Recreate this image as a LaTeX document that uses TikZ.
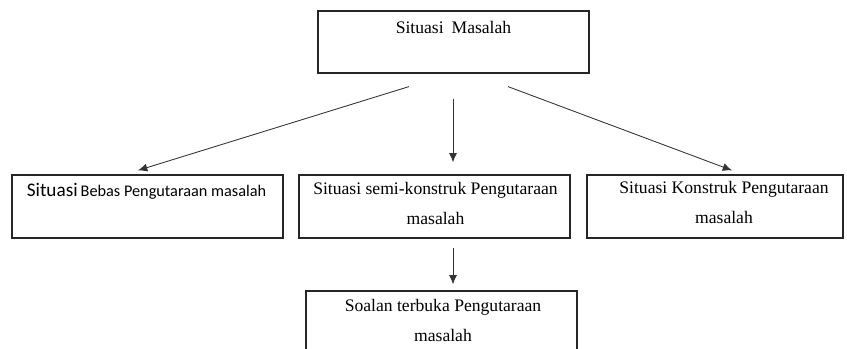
\documentclass[tikz,border=0pt]{standalone}
\usepackage{fontspec}
\setmainfont{Liberation Serif}
\newfontfamily\calibri{Carlito}
\usepackage{tikz}
\usetikzlibrary{calc,arrows.meta}

\begin{document}
\begin{tikzpicture}[x = 0.75pt, y = -0.75pt,
                    kotak/.style = {draw = black!85, line width = 0.9pt, inner sep = 0pt,
                                    minimum width = 271*0.75pt, minimum height = 63*0.75pt},
                    teks/.style = {anchor = base, inner sep = 0pt, align = center,
                                   font = \fontsize{13.2}{22.5}\selectfont},
                    panah/.style = {draw = black!80, line width = 0.65pt,
                                    -{Latex[length = 7pt, width = 6pt]}}]
                \useasboundingbox (0,0) rectangle (847,349);
                \clip (0,0) rectangle (847,349);
                % kotak-kotak
                \node[kotak, minimum height = 62*0.75pt] (masalah) at (453.5,42) {};
                \node[kotak] (bebas) at (147.5,206.5) {};
                \node[kotak] (semi) at (434.5,206.5) {};
                \node[kotak, minimum width = 256*0.75pt] (konstruk) at (715,206.5) {};
                \node[kotak] (soalan) at (441.5,322.5) {};
                % teks (base = garis dasar baris terakhir)
                \node[teks] (masalahT) at ($(masalah.north)+(0,23.5)$) {Situasi\hspace{0.45em}Masalah};
                \node[teks, font = \calibri] (bebasT) at ($(bebas.north)+(-1,22)$)
                    {{\fontsize{14.4}{17}\selectfont Situasi} {\fontsize{12.2}{15}\selectfont Bebas Pengutaraan masalah}};
                \node[teks] (semiT) at ($(semi.north)+(1,50)$) {Situasi semi-konstruk Pengutaraan\\masalah};
                \node[teks] (konstrukT) at ($(konstruk.north)+(9,49)$) {Situasi Konstruk Pengutaraan\\masalah};
                \node[teks] (soalanT) at ($(soalan.north)+(1.5,51)$) {Soalan terbuka Pengutaraan\\masalah};
                % anak panah
                \coordinate (kiriA) at ($(masalah.south)+(-44.5,13)$);
                \coordinate (tengahA) at ($(masalah.south)+(-0.5,25)$);
                \coordinate (kananA) at ($(masalah.south)+(54.5,13)$);
                \coordinate (kiriB) at ($(bebas.north)+(-9.5,-4)$);
                \coordinate (tengahB) at ($(semi.north)+(18.5,-12)$);
                \coordinate (kananB) at ($(konstruk.north)+(17,-4)$);
                \coordinate (bawahA) at ($(semi.south)+(18.5,9)$);
                \coordinate (bawahB) at ($(soalan.north)+(11.5,-6)$);
                \draw[panah] (kiriA) -- (kiriB);
                \draw[panah] (tengahA) -- (tengahB);
                \draw[panah] (kananA) -- (kananB);
                \draw[panah] (bawahA) -- (bawahB);
                \end{tikzpicture}
\end{document}
